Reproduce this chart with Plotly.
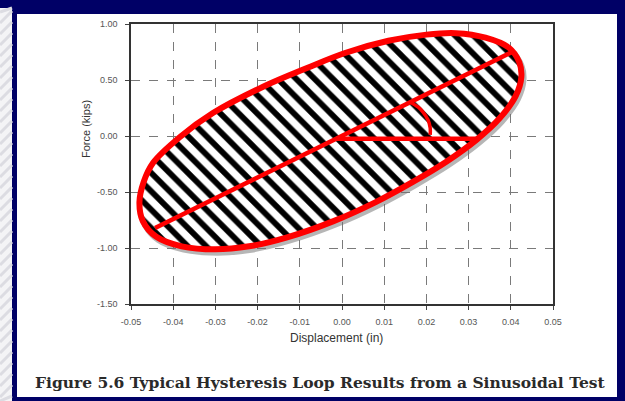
import plotly.graph_objects as go

# Hysteresis loop outline: displacement (in) and force (kips) traced around the loop
loop_disp = [-0.0187, -0.0083, 0.0007, 0.0110, 0.0200, 0.0270, 0.0340, 0.0395, 0.0420,
             0.0425, 0.0412, 0.0374, 0.0320, 0.0249, 0.0168, 0.0080, -0.0020, -0.0130,
             -0.0220, -0.0300, -0.0380, -0.0440, -0.0472, -0.0480, -0.0470, -0.0448,
             -0.0384, -0.0306, -0.0187]
loop_force = [0.440, 0.607, 0.741, 0.850, 0.905, 0.918, 0.878, 0.790, 0.660,
              0.527, 0.360, 0.160, -0.030, -0.225, -0.410, -0.590, -0.760, -0.905,
              -0.985, -1.012, -0.985, -0.900, -0.760, -0.590, -0.410, -0.241,
              -0.009, 0.205, 0.440]

# Principal axis of the loop and the horizontal reference through its centre
axis_disp = [-0.0443, 0.0403]
axis_force = [-0.821, 0.750]
ref_disp = [-0.0014, 0.0322]
ref_force = [-0.025, -0.025]

# Phase-angle arc between the two lines
arc_disp = [0.0161, 0.0180, 0.0192, 0.0204, 0.0209, 0.0209]
arc_force = [0.304, 0.259, 0.214, 0.143, 0.071, 0.009]

x_ticks = [-0.05, -0.04, -0.03, -0.02, -0.01, 0.0, 0.01, 0.02, 0.03, 0.04, 0.05]
x_labels = ["-0.05", "-0.04", "-0.03", "-0.02", "-0.01", "0.00", "0.01", "0.02", "0.03", "0.04", "0.05"]
y_ticks = [1.0, 0.5, 0.0, -0.5, -1.0, -1.5]
y_labels = ["1.00", "0.50", "0.00", "-0.50", "-1.00", "-1.50"]

caption = "Figure 5.6 Typical Hysteresis Loop Results from a Sinusoidal Test"

W, H = 625, 401
L, R, T, B = 131, 72, 24, 97
pw, ph = W - L - R, H - T - B


def px_x(p):
    return (p - L) / pw


def px_y(p):
    return (H - B - p) / ph


RED = "#ff0000"
fig = go.Figure()

# soft drop shadow under the loop
fig.add_trace(go.Scatter(
    x=[d + 0.0005 for d in loop_disp], y=[f - 0.03 for f in loop_force],
    mode="lines", line=dict(color="rgba(110,110,110,0.5)", width=6, shape="spline"),
    hoverinfo="skip", showlegend=False))

# hatched loop with red outline
fig.add_trace(go.Scatter(
    x=loop_disp, y=loop_force, mode="lines", fill="toself",
    fillcolor="white",
    fillpattern=dict(shape="\\", size=13, solidity=0.45, fgcolor="black",
                     bgcolor="white", fgopacity=1),
    line=dict(color=RED, width=6, shape="spline"),
    hoverinfo="skip", showlegend=False))

fig.add_trace(go.Scatter(x=axis_disp, y=axis_force, mode="lines",
                         line=dict(color=RED, width=4.5), showlegend=False))
fig.add_trace(go.Scatter(x=ref_disp, y=ref_force, mode="lines",
                         line=dict(color=RED, width=4.5), showlegend=False))
fig.add_trace(go.Scatter(x=arc_disp, y=arc_force, mode="lines",
                         line=dict(color=RED, width=3.5, shape="spline"), showlegend=False))

shapes = [
    # white page panel
    dict(type="rect", xref="paper", yref="paper", layer="below",
         x0=px_x(17), x1=px_x(617), y0=px_y(397), y1=px_y(14),
         fillcolor="white", line=dict(width=0)),
    # pale strip at the left edge
    dict(type="rect", xref="paper", yref="paper", layer="below",
         x0=px_x(0), x1=px_x(12), y0=px_y(401), y1=px_y(8),
         fillcolor="#f4f4f6", line=dict(width=0)),
]
for k in range(0, 410, 11):
    shapes.append(dict(type="line", xref="paper", yref="paper", layer="below",
                       x0=px_x(0), x1=px_x(12),
                       y0=px_y(min(k + 12, 401)), y1=px_y(max(k, 8)),
                       line=dict(color="#dcdce2", width=3)))

axis_common = dict(
    showline=True, linecolor="#333333", linewidth=1.5, mirror=True,
    showgrid=True, gridcolor="#7a7a7a", gridwidth=1, griddash="dash",
    zeroline=False, ticks="outside", ticklen=4, tickcolor="#444444",
    tickfont=dict(family="Liberation Sans", size=9, color="#555555"),
)

fig.update_layout(
    width=W, height=H,
    margin=dict(l=L, r=R, t=T, b=B),
    paper_bgcolor="#000066", plot_bgcolor="white",
    shapes=shapes,
    xaxis=dict(range=[-0.05, 0.05], tickvals=x_ticks, ticktext=x_labels,
               ticklabelstandoff=4, **axis_common),
    yaxis=dict(range=[-1.5, 1.0], tickvals=y_ticks, ticktext=y_labels,
               ticklabelstandoff=6, **axis_common),
    annotations=[
        dict(text="Displacement (in)", xref="paper", yref="paper",
             x=px_x(336), y=px_y(338), xanchor="center", yanchor="middle",
             showarrow=False,
             font=dict(family="Liberation Sans", size=12, color="#333333")),
        dict(text="Force (kips)", xref="paper", yref="paper", textangle=-90,
             x=px_x(86), y=px_y(129), xanchor="center", yanchor="middle",
             showarrow=False,
             font=dict(family="Liberation Sans", size=11, color="#333333")),
        dict(text="<b>" + caption + "</b>", xref="paper", yref="paper",
             x=px_x(320), y=px_y(382), xanchor="center", yanchor="middle",
             showarrow=False,
             font=dict(family="DejaVu Serif", size=15.5, color="#2a2a2a")),
    ],
)

fig.write_html("out.html")
